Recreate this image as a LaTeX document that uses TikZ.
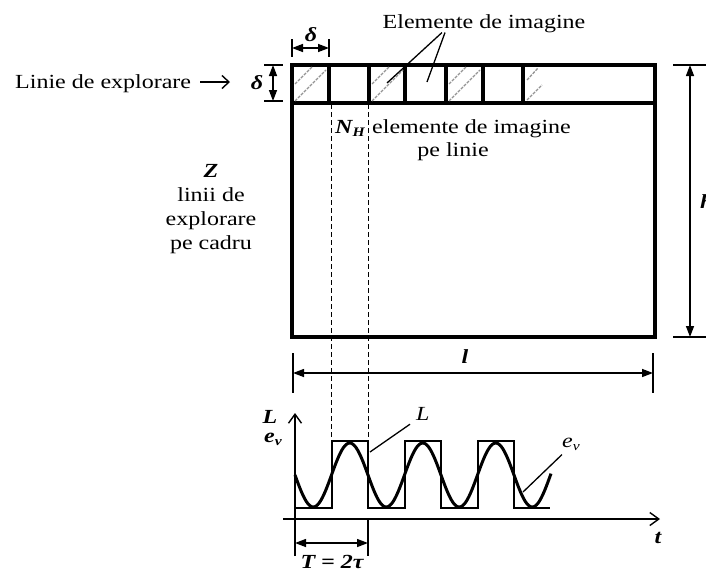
\documentclass[tikz,border=0pt]{standalone}
\usepackage{fontspec}
\setmainfont{Liberation Serif}[FakeStretch=1.2]
\usetikzlibrary{arrows.meta}
\newcommand\lowsub[1]{\raisebox{-0.35ex}{\fontsize{13}{13}\selectfont #1}}
\begin{document}
\begin{tikzpicture}[x=1pt,y=-1pt,
  frame/.style={line width=3.2pt, line join=miter},
  thin/.style={line width=1.4pt},
  leader/.style={line width=1.3pt},
  dimarr/.style={thin,{Triangle[length=11pt,width=8pt]}-{Triangle[length=11pt,width=8pt]}},
  axisarr/.style={thin,-{Straight Barb[length=9pt,width=13pt]}},
  hatchline/.style={gray!85, line width=1.3pt, dash pattern=on 3pt off 1.2pt},
  guide/.style={line width=0.8pt, dash pattern=on 5pt off 3pt},
  txt/.style={inner sep=0pt, font=\fontsize{20}{24}\selectfont},
  btxt/.style={inner sep=0pt, font=\fontsize{20}{24}\selectfont\bfseries\itshape},
  itxt/.style={inner sep=0pt, font=\fontsize{20}{24}\selectfont\itshape},
  sine/.style={line width=3pt},
  wave/.style={line width=1.4pt},
]
\useasboundingbox (0,0) rectangle (706,571);
% ---------------- frame ----------------
\coordinate (TL) at (292,65);
\coordinate (BR) at (655,337);
\coordinate (RL) at (292,103);
\coordinate (RR) at (655,103);
\draw[frame] (TL) rectangle (BR);
\draw[frame] (RL) -- (RR);
\foreach \x in {329,369,405,446,483,523} \draw[frame] (\x,65) -- (\x,103);
% hatching
\foreach \x in {292,369,446} {
  \draw[hatchline] (\x+3,84) -- (\x+20,67);
  \draw[hatchline] (\x+3,101) -- (\x+34,70);
}
\draw[hatchline] (527,100) -- (542,85);
\draw[hatchline] (527,80) -- (538,68);
% guides
\coordinate (g1a) at (331,104);
\coordinate (g1b) at (331,441);
\coordinate (g2a) at (368,104);
\coordinate (g2b) at (368,441);
\draw[guide] (g1a) -- (g1b);
\draw[guide] (g2a) -- (g2b);
% ---------------- left label ----------------
\node[txt, anchor=base west] (expl) at (15,88) {Linie de explorare};
\coordinate (ea) at (200,82);
\coordinate (eb) at (230,82);
\draw[thin, -{Straight Barb[length=7pt,width=13pt]}] (ea) -- (eb);
% delta top
\coordinate (dt1) at (292,48);
\coordinate (dt2) at (329,48);
\draw[thin] (292,39) -- (292,57);
\draw[thin] (329,39) -- (329,57);
\draw[dimarr] (dt1) -- (dt2);
\node[btxt, anchor=base] (d1) at (311,41) {δ};
% delta left
\coordinate (dl1) at (273,65);
\coordinate (dl2) at (273,101);
\draw[thin] (264,65) -- (283,65);
\draw[thin] (264,101) -- (283,101);
\draw[dimarr] (dl1) -- (dl2);
\node[btxt, anchor=base] (d2) at (257,89) {δ};
% Elemente de imagine
\node[txt, anchor=base] (elem) at (484,28) {Elemente de imagine};
\coordinate (p1) at (387,83);
\coordinate (p2) at (427,82);
\draw[leader] ([xshift=-42pt]elem.south) -- (p1);
\draw[leader] ([xshift=-39pt]elem.south) -- (p2);
% N_H
\node[btxt, anchor=base west] (nh) at (335,133) {N\lowsub{H}};
\node[txt, anchor=base west] (nhtxt) at (372,133) {elemente de imagine};
\node[txt, anchor=base] (nhtxt2) at (453,156) {pe linie};
% Z
\node[btxt, anchor=base] (zz) at (211,177) {Z};
\node[txt, anchor=base] (z1) at (211,201) {linii de};
\node[txt, anchor=base] (z2) at (211,225) {explorare};
\node[txt, anchor=base] (z3) at (211,249) {pe cadru};
% h dimension
\coordinate (h1) at (690,65);
\coordinate (h2) at (690,337);
\draw[thin] (673,65) -- (706,65);
\draw[thin] (673,337) -- (706,337);
\draw[dimarr] (h1) -- (h2);
\node[btxt, anchor=base west] (hh) at (700,208) {h};
% l dimension
\coordinate (l1) at (293,373);
\coordinate (l2) at (653,373);
\draw[thin] (293,353) -- (293,393);
\draw[thin] (653,353) -- (653,393);
\draw[dimarr] (l1) -- (l2);
\node[btxt, anchor=base] (ll) at (465,363) {l};
% ---------------- waveform ----------------
\coordinate (ya) at (295,556);
\coordinate (yb) at (295,413);
\coordinate (xa) at (283,519);
\coordinate (xb) at (660,519);
\draw[axisarr] (ya) -- (yb);
\draw[axisarr] (xa) -- (xb);
\draw[wave] (295,508) -- (332,508) -- (332,441) -- (368,441) -- (368,508)
  -- (405,508) -- (405,441) -- (441,441) -- (441,508)
  -- (478,508) -- (478,441) -- (514,441) -- (514,508) -- (550,508);
\draw[sine, line join=round] plot[domain=295:551, samples=160, smooth]
  (\x, {475+32*sin(4.93151*(\x-295))});
% T dimension
\coordinate (ta) at (295,543);
\coordinate (tb) at (368,543);
\draw[thin] (368,519) -- (368,556);
\draw[dimarr] (ta) -- (tb);
\node[btxt, anchor=base] (T) at (332,568) {T = 2τ};
% labels
\node[btxt, anchor=base] (Ll) at (270,423) {L};
\node[btxt, anchor=base] (evl) at (273,442) {e\lowsub{v}};
\node[itxt, anchor=base west] (Lr) at (416,420) {L};
\coordinate (lr1) at (370,452);
\draw[leader] (lr1) -- ([xshift=-6pt,yshift=-4pt]Lr.south west);
\node[itxt, anchor=base west] (evr) at (562,447) {e\lowsub{v}};
\coordinate (er1) at (523,492);
\draw[leader] (er1) -- ([yshift=-4pt]evr.south west);
\node[btxt, anchor=base] (tt) at (658,543) {t};
\end{tikzpicture}
\end{document}
